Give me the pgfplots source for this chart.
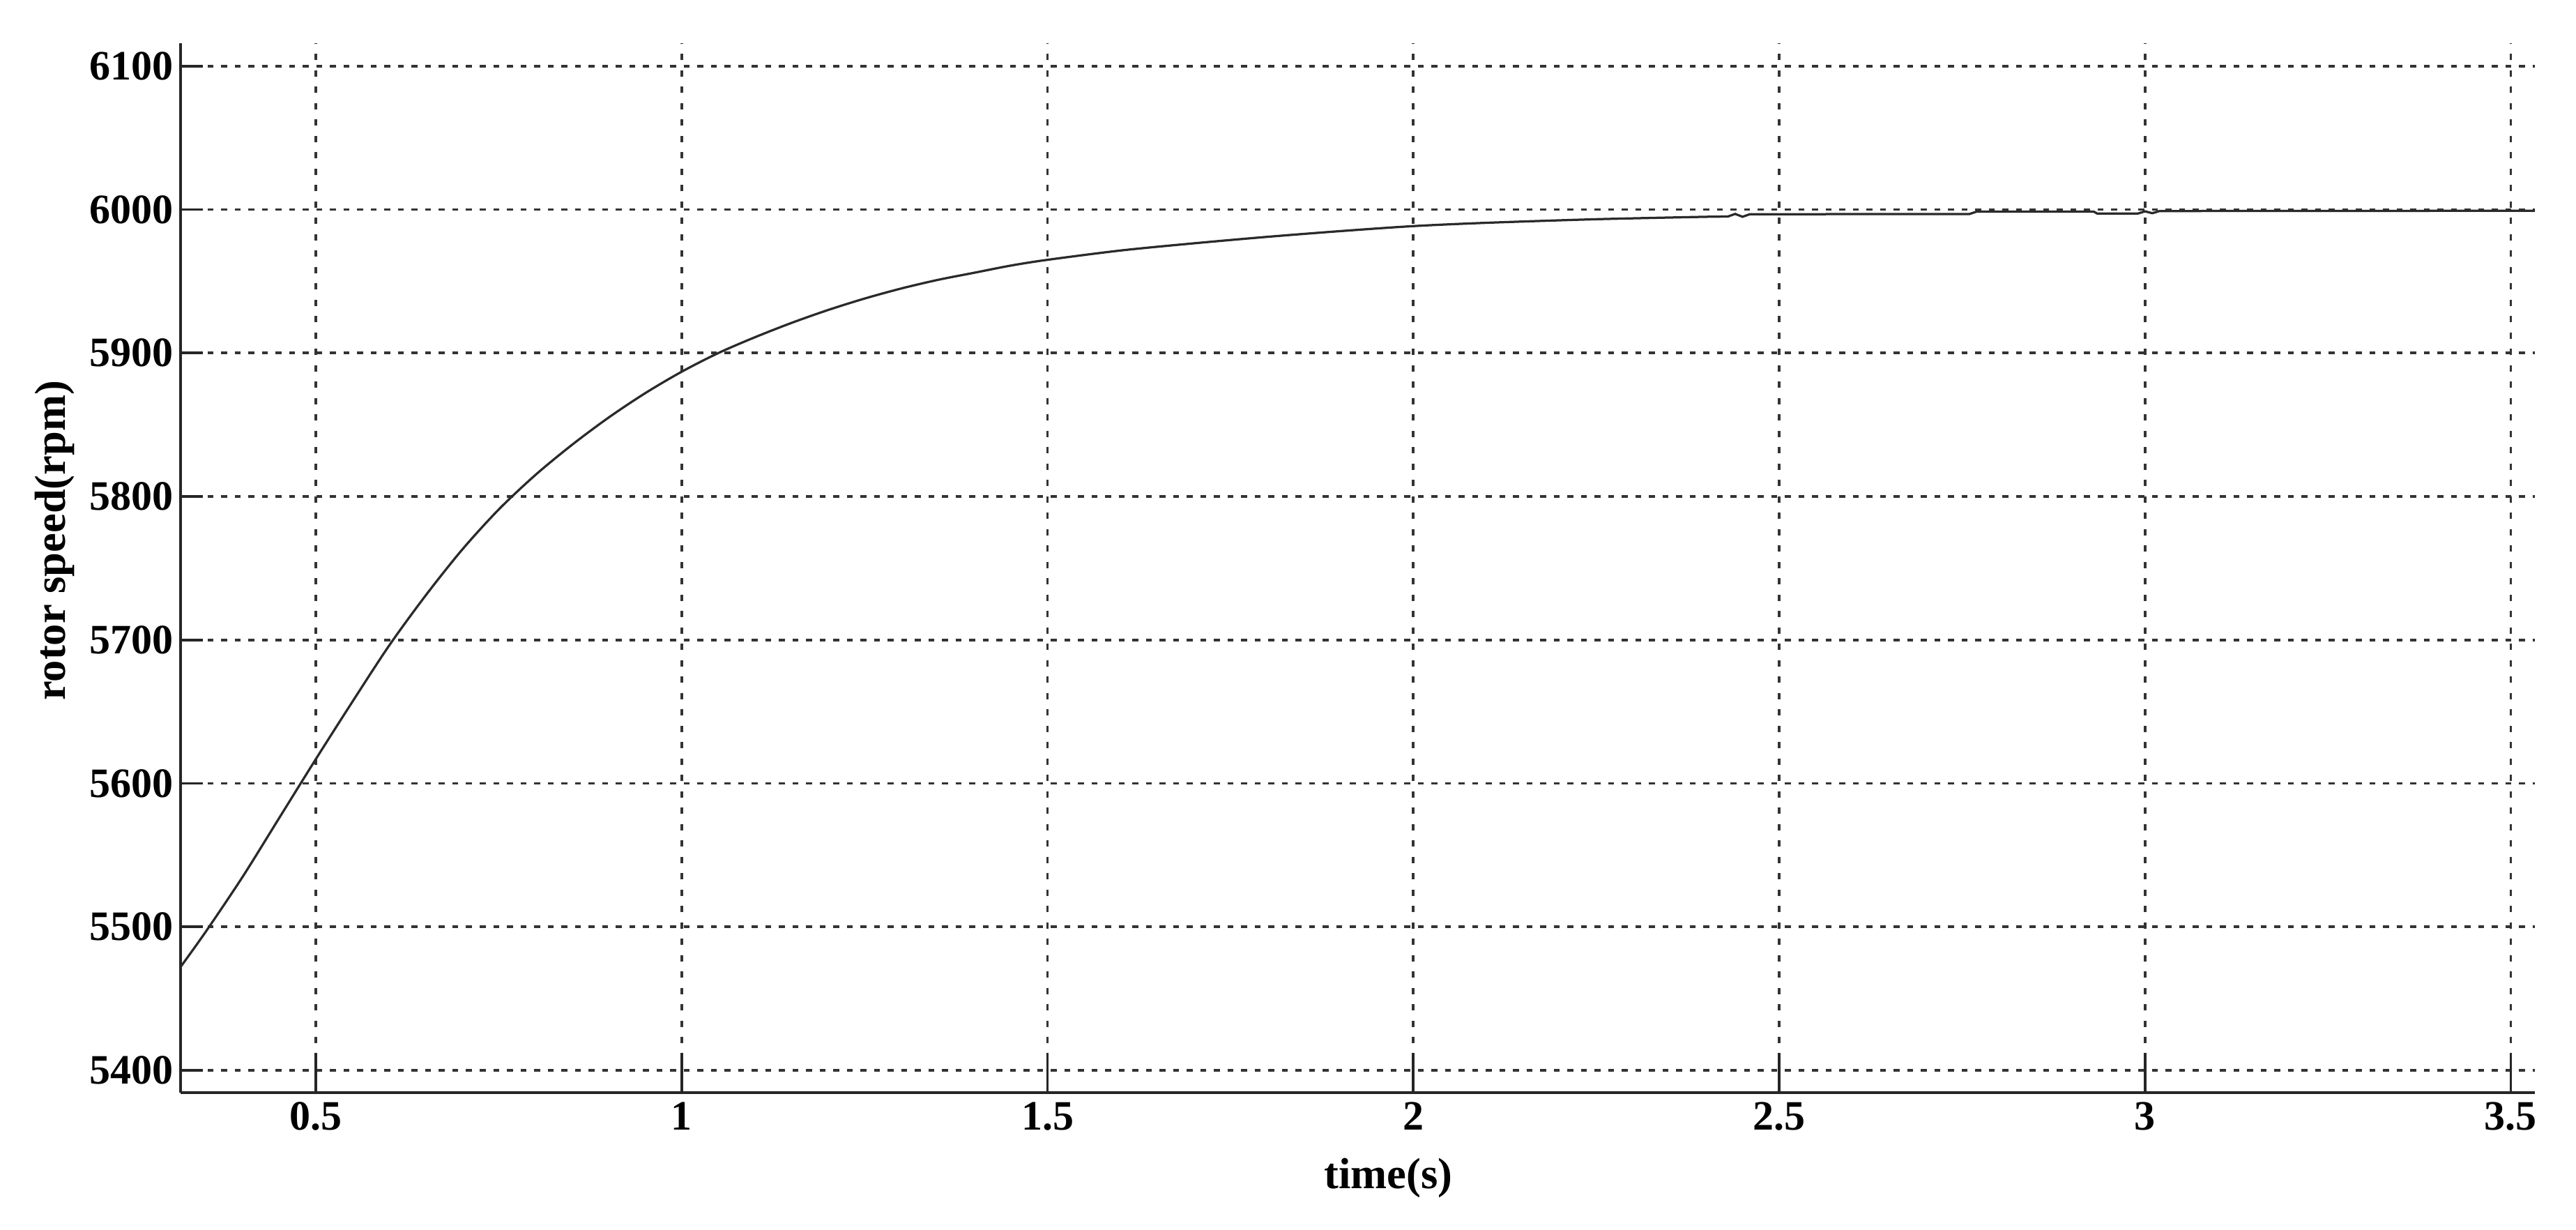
\documentclass[border=0pt]{standalone}
\usepackage{fontspec}
\setmainfont{Liberation Serif}
\usepackage{pgfplots}
\pgfplotsset{compat=1.18}
\usetikzlibrary{calc}
\definecolor{gridgray}{HTML}{333333}
\definecolor{curvegray}{HTML}{2A2A2A}

\begin{document}
\begin{tikzpicture}
\begin{axis}[
  scale only axis, width=675.4pt, height=301pt,
  xmin=0.315, xmax=3.533, ymin=5384.4, ymax=6116,
  axis lines*=left,
  axis line style={line width=0.85pt, black!85},
  xtick={0.5,1,...,3.5}, ytick={5400,5500,...,6100},
  tick align=inside, major tick length=6.4pt,
  xtick style={line width=0.75pt, black!85, /pgfplots/major tick length=11.4pt},
  ytick style={line width=0.75pt, black!85},
  grid=major,
  x grid style={gridgray, line width=0.75pt, dash pattern=on 1.8pt off 2.9pt},
  y grid style={gridgray, line width=0.75pt, dash pattern=on 1.7pt off 2.2pt},
  /pgf/number format/assume math mode=true,
  /pgf/number format/set thousands separator={},
  tick label style={font=\fontsize{12}{14}\selectfont\bfseries},
  xticklabel style={yshift=0.8pt},
  yticklabel style={xshift=1.5pt},
  xlabel={time(s)}, ylabel={rotor speed(rpm)},
  label style={font=\fontsize{12.5}{15}\selectfont\bfseries},
  xlabel style={at={(axis description cs:0.513,-0.0817)}, anchor=center},
  ylabel style={at={(axis description cs:-0.0536,0.526)}, anchor=center},
]
% rising part
\addplot[curvegray, line width=0.65pt, smooth, tension=0.5] coordinates {
  (0.315,5472) (0.35,5497) (0.4,5535) (0.45,5576) (0.5,5617)
  (0.55,5657) (0.6,5696) (0.65,5731) (0.7,5763) (0.75,5791)
  (0.8,5815) (0.85,5836) (0.9,5855) (0.95,5872) (1.0,5887)
  (1.05,5900) (1.1,5911) (1.15,5921) (1.2,5930) (1.25,5938)
  (1.3,5945) (1.35,5951) (1.4,5956) (1.45,5961) (1.5,5965)
  (1.6,5971.5) (1.7,5976.5) (1.8,5981) (1.9,5985) (2.0,5988.5)
  (2.1,5990.8) (2.25,5993.3) (2.4,5995)
};
% settled part
\addplot[curvegray, line width=0.65pt] coordinates {
  (2.4,5995) (2.43,5995.2) (2.44,5997) (2.45,5995) (2.46,5996.8)
  (2.76,5996.9) (2.77,5998.6) (2.93,5998.6) (2.935,5997.2) (2.99,5997.2)
  (3.0,5998.8) (3.01,5997.5) (3.02,5999) (3.533,5999.2)
};
\end{axis}
\path (current axis.south west) ++(-51.8pt,-39.4pt) rectangle ($(current axis.north east)+(11.8pt,12.4pt)$);
\end{tikzpicture}
\end{document}
